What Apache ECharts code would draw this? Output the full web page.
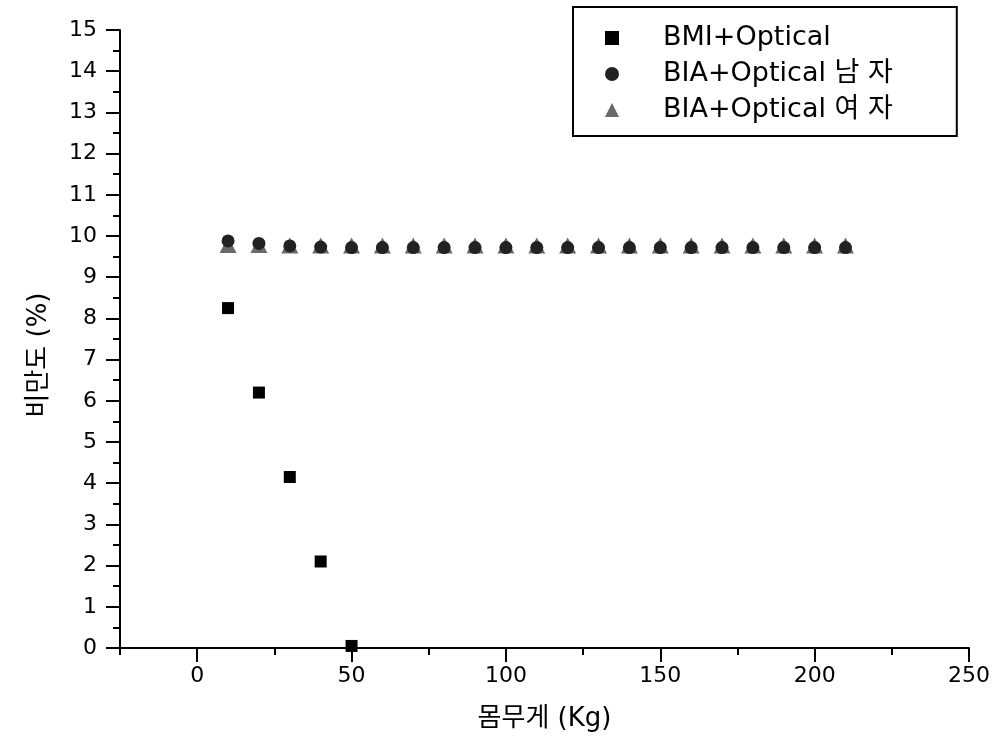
<!DOCTYPE html>
<html>
<head>
<meta charset="utf-8">
<script src="https://cdn.jsdelivr.net/npm/echarts@6/dist/echarts.min.js"></script>
<style>
html,body{margin:0;padding:0;background:#fff;}
#c{width:1006px;height:747px;}
</style>
</head>
<body>
<div id="c"></div>
<script>
const seriesNames = ['BMI+Optical', 'BIA+Optical 남 자', 'BIA+Optical 여 자'];
const bmiWeights = [10, 20, 30, 40, 50];
const bmiValues = [8.25, 6.2, 4.15, 2.1, 0.05];
const biaWeights = [10, 20, 30, 40, 50, 60, 70, 80, 90, 100, 110, 120, 130, 140, 150, 160, 170, 180, 190, 200, 210];
const biaMaleValues = [9.88, 9.82, 9.76, 9.73, 9.72, 9.72, 9.72, 9.72, 9.72, 9.72, 9.72, 9.72, 9.72, 9.72, 9.72, 9.72, 9.72, 9.72, 9.72, 9.72, 9.72];
const biaFemaleValues = [9.78, 9.78, 9.77, 9.77, 9.77, 9.77, 9.77, 9.77, 9.77, 9.77, 9.77, 9.77, 9.77, 9.77, 9.77, 9.77, 9.77, 9.77, 9.77, 9.77, 9.77];
const xMajorTicks = [0, 50, 100, 150, 200, 250];

const font = '"DejaVu Sans", "Liberation Sans", "Noto Sans CJK KR", sans-serif';
const zip = (xs, ys) => xs.map((x, i) => [x, ys[i]]);

const chart = echarts.init(document.getElementById('c'));
chart.setOption({
  animation: false,
  backgroundColor: '#fff',
  grid: { left: 120, right: 37, top: 30, bottom: 99, containLabel: false },
  legend: {
    orient: 'vertical',
    left: 573, top: 7,
    borderColor: '#000', borderWidth: 2,
    padding: [16, 64, 11, 32],
    itemWidth: 14, itemHeight: 14, itemGap: 6,
    textStyle: { fontFamily: font, fontSize: 27, color: '#000', lineHeight: 30, padding: [0, 0, 0, 39] },
    data: seriesNames
  },
  xAxis: [{
    type: 'value', min: -25, max: 250, interval: 25,
    name: '몸무게 (Kg)', nameLocation: 'middle', nameGap: 58,
    nameTextStyle: { fontFamily: font, fontSize: 26, color: '#000' },
    axisLine: { show: true, onZero: false, lineStyle: { color: '#000', width: 2 } },
    axisTick: { show: true, inside: false, length: 7, lineStyle: { color: '#000', width: 2 } },
    axisLabel: { margin: 17, fontFamily: font, fontSize: 22, color: '#000',
      formatter: v => (v % 50 === 0 ? String(v) : '') },
    splitLine: { show: false }
  }, {
    type: 'value', min: -25, max: 250, position: 'bottom', offset: 0,
    axisLine: { show: false, onZero: false },
    axisTick: { show: true, length: 14, customValues: xMajorTicks, lineStyle: { color: '#000', width: 2 } },
    axisLabel: { show: false },
    splitLine: { show: false }
  }],
  yAxis: {
    type: 'value', min: 0, max: 15, interval: 1,
    name: '비만도 (%)', nameLocation: 'middle', nameGap: 68,
    nameTextStyle: { fontFamily: font, fontSize: 26, color: '#000', padding: [0, 32, 0, 0] },
    axisLine: { show: true, onZero: false, lineStyle: { color: '#000', width: 2 } },
    axisTick: { show: true, length: 14, lineStyle: { color: '#000', width: 2 } },
    minorTick: { show: true, splitNumber: 2, length: 7, lineStyle: { color: '#000', width: 2 } },
    axisLabel: { margin: 23, fontFamily: font, fontSize: 22, color: '#000' },
    splitLine: { show: false }, minorSplitLine: { show: false }
  },
  series: [{
    name: seriesNames[0], type: 'scatter', symbol: 'rect', symbolSize: 12,
    itemStyle: { color: '#000', opacity: 1 }, z: 4,
    data: zip(bmiWeights, bmiValues)
  }, {
    name: seriesNames[1], type: 'scatter', symbol: 'circle', symbolSize: 13,
    itemStyle: { color: '#222', opacity: 1 }, z: 3,
    data: zip(biaWeights, biaMaleValues)
  }, {
    name: seriesNames[2], type: 'scatter', symbol: 'triangle', symbolSize: [17, 16],
    itemStyle: { color: '#6a6a6a', opacity: 1 }, z: 2,
    data: zip(biaWeights, biaFemaleValues)
  }]
});
</script>
</body>
</html>
